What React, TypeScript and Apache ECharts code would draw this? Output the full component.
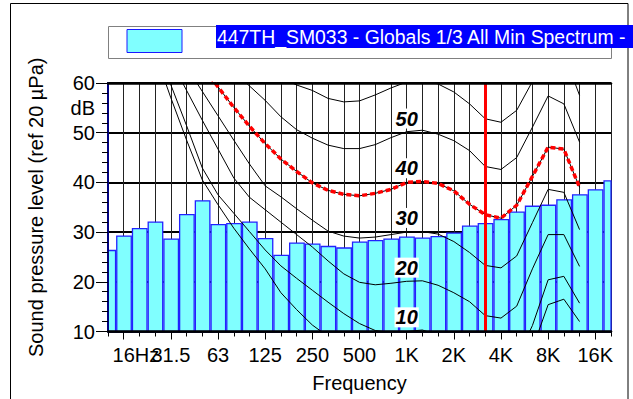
import React, { useEffect, useRef } from 'react';
import * as echarts from 'echarts';

// 1/3-octave band centres (x position = index in this list)
const BANDS = ['12.5', '16', '20', '25', '31.5', '40', '50', '63', '80', '100', '125', '160', '200', '250', '315', '400', '500', '630', '800', '1K', '1.25K', '1.6K', '2K', '2.5K', '3.15K', '4K', '5K', '6.3K', '8K', '10K', '12.5K', '16K', '20K'];
const LABELED_BANDS = ['16', '31.5', '63', '125', '250', '500', '1K', '2K', '4K', '8K', '16K'];
const FIRST_LABEL_SUFFIX = 'Hz';

// Measured spectrum (dB), one value per band
const SPECTRUM = [26.3, 29.2, 30.7, 32.0, 28.6, 33.5, 36.3, 31.5, 31.7, 32.0, 28.7, 25.3, 27.8, 27.6, 27.1, 26.8, 28.0, 28.3, 28.6, 29.0, 28.8, 29.1, 29.8, 31.2, 31.7, 32.5, 34.0, 35.2, 35.4, 36.5, 37.5, 38.5, 40.3];

// Equal-loudness contours, bands 20 Hz .. 12.5 kHz
const CONTOUR_START_BAND = '20';
const CONTOUR_0 = [74, 66, 57, 48.5, 40.5, 35.5, 30.8, 26.6, 22.6, 17.8, 14.4, 11.3, 9, 7.2, 5.8, 4.8, 4.2, 4.0, 3.6, 2.0, -0.5, -2.5, -3.5, -3.5, 0, 6.5, 15.4, 16.5, 12.0];
const CONTOUR_10 = [76, 68.3, 59.6, 51.4, 42.9, 37.5, 33.8, 30.1, 26.4, 23.2, 20.7, 18.3, 15.9, 13.6, 11.6, 10.2, 9.8, 10.0, 10.3, 9.3, 7, 4.5, 2.5, 2.0, 4.5, 11.2, 20.4, 21.1, 15.7];
const CONTOUR_20 = [79, 71.5, 64.5, 58.5, 52.5, 46.7, 40.9, 37.0, 34.5, 32.0, 29.5, 27.0, 24.2, 21.6, 19.9, 19.4, 19.7, 20.1, 20.2, 19.3, 17.8, 16.0, 13.2, 12.7, 15.1, 22.6, 29.5, 29.5, 23.1];
const CONTOUR_30 = [80, 73, 68, 63.2, 58.3, 53.4, 48.5, 43.7, 39.3, 37.1, 34.7, 32.4, 30.2, 29.2, 28.8, 29.0, 29.5, 30.0, 30.1, 29.6, 28.1, 25.9, 23.3, 22.8, 25.2, 31.9, 38.6, 38.0, 30.5];
const CONTOUR_40 = [90, 83, 76, 69, 63.4, 59.2, 55.1, 51.3, 47.8, 44.7, 42.2, 39.9, 38.4, 37.6, 37.3, 37.8, 38.6, 40.0, 40.2, 39.8, 38.3, 35.6, 33.5, 32.8, 35.4, 41.2, 47.1, 46.7, 39.0];
const CONTOUR_50 = [100, 93, 86, 79, 72, 67, 62.3, 59.4, 56.5, 53.2, 50.6, 48.9, 47.5, 46.8, 46.8, 47.6, 49.0, 50.2, 50.5, 49.7, 48.4, 46.4, 43.2, 42.6, 45.0, 51.1, 57.4, 55.8, 48.1];
const CONTOUR_60 = [110, 103, 96, 89, 82, 76, 71, 67, 63.5, 61.0, 59.6, 58.5, 56.9, 56.2, 56.4, 57.6, 59.0, 60.2, 60.5, 59.8, 58.2, 55.8, 52.8, 52.1, 54.5, 60.3, 67, 66, 57.5];
const CONTOUR_LABELS = ['10', '20', '30', '40', '50'];
const CONTOUR_LABEL_BAND = '1K';
const HIGHLIGHT_CONTOUR = CONTOUR_40;
const MARKER_BAND = '3.15K';

const Y_MIN = 10;
const Y_MAX = 60;
const Y_LABEL_VALUES = [10, 20, 30, 40, 50, 55, 60];
const Y_UNIT_VALUE = 55;
const Y_UNIT = 'dB';

const LEGEND_TEXT = '447TH_SM033 - Globals 1/3 All Min Spectrum -';
const X_TITLE = 'Frequency';
const Y_TITLE = 'Sound pressure level (ref 20 \u00b5Pa)';

const FONT = '"Liberation Sans", Arial, sans-serif';

export default function App() {
  const ref = useRef<HTMLDivElement>(null);

  useEffect(() => {
    if (!ref.current) return;
    const chart = echarts.init(ref.current, null, { renderer: 'svg' });
    const start = BANDS.indexOf(CONTOUR_START_BAND);
    const toPts = (arr: number[]) => arr.map((v, i) => [start + i, v]);
    const labelTicks = LABELED_BANDS.map((b) => BANDS.indexOf(b));
    const firstTick = labelTicks[0];
    const otherTicks = labelTicks.slice(1);
    const xMax = BANDS.length - 1;

    const contourSeries = [CONTOUR_0, CONTOUR_10, CONTOUR_20, CONTOUR_30, CONTOUR_40, CONTOUR_50, CONTOUR_60].map((arr) => ({
      type: 'line',
      data: toPts(arr),
      symbol: 'none',
      silent: true,
      clip: true,
      z: 3,
      lineStyle: { color: '#000', width: 1 },
    }));

    const hideAll = {
      axisLine: { show: false },
      axisTick: { show: false },
      axisLabel: { show: false },
      splitLine: { show: false },
    };
    const labelBase = {
      show: true, margin: 13, fontSize: 20, color: '#000', fontFamily: FONT,
      hideOverlap: false, showMinLabel: true, showMaxLabel: true,
    };

    chart.setOption({
      animation: false,
      backgroundColor: '#fff',
      textStyle: { fontFamily: FONT },
      grid: { left: 108, right: 22, top: 83, bottom: 67.5, containLabel: false },
      xAxis: [
        {
          type: 'value', min: 0, max: xMax, interval: 1, position: 'bottom',
          axisLine: { show: false },
          axisTick: { show: true, length: 5, lineStyle: { color: '#000', width: 1 } },
          axisLabel: { show: false },
          splitLine: { show: true, lineStyle: { color: '#222', width: 1 } },
        },
        {
          type: 'value', min: 0, max: xMax, position: 'bottom', z: 10,
          axisLine: { show: true, lineStyle: { color: '#000', width: 2.5 } },
          axisTick: { show: true, length: 8, customValues: labelTicks, lineStyle: { color: '#000', width: 1 } },
          axisLabel: {
            ...labelBase,
            customValues: otherTicks,
            formatter: (v: number) => BANDS[Math.round(v)],
          },
          splitLine: { show: false },
          name: X_TITLE, nameLocation: 'middle', nameGap: 41,
          nameTextStyle: { fontSize: 20, color: '#000', fontFamily: FONT },
        },
        {
          type: 'value', min: 0, max: xMax, position: 'top', z: 10,
          ...hideAll,
          axisLine: { show: true, lineStyle: { color: '#000', width: 2.5 } },
        },
        {
          type: 'value', min: 0, max: xMax, position: 'bottom', z: 10,
          axisLine: { show: false }, axisTick: { show: false }, splitLine: { show: false },
          axisLabel: {
            ...labelBase,
            customValues: [firstTick],
            formatter: (v: number) => `{h|${FIRST_LABEL_SUFFIX}}${BANDS[Math.round(v)]}${FIRST_LABEL_SUFFIX}`,
            rich: { h: { color: 'rgba(255,255,255,0)', fontSize: 20, fontFamily: FONT } },
          },
        },
      ],
      yAxis: [
        {
          type: 'value', min: Y_MIN, max: Y_MAX, interval: 10, position: 'left',
          axisLine: { show: false }, axisTick: { show: false }, axisLabel: { show: false },
          splitLine: { show: true, lineStyle: { color: '#000', width: 2 } },
        },
        {
          type: 'value', min: Y_MIN, max: Y_MAX, interval: 10, position: 'left', z: 10,
          axisLine: { show: true, lineStyle: { color: '#000080', width: 2 } },
          axisTick: { show: true, length: 12, lineStyle: { color: '#000', width: 1 } },
          axisLabel: {
            ...labelBase,
            customValues: Y_LABEL_VALUES,
            formatter: (v: number) => (v === Y_UNIT_VALUE ? Y_UNIT : String(v)),
          },
          splitLine: { show: false },
          name: Y_TITLE, nameLocation: 'middle', nameGap: 62, nameRotate: 90,
          nameTextStyle: { fontSize: 20, color: '#000', fontFamily: FONT },
        },
        {
          type: 'value', min: Y_MIN, max: Y_MAX, interval: 2, position: 'left', z: 10,
          axisLine: { show: false },
          axisTick: { show: true, length: 6, lineStyle: { color: '#000', width: 1 } },
          axisLabel: { show: false }, splitLine: { show: false },
        },
        {
          type: 'value', min: Y_MIN, max: Y_MAX, position: 'right', z: 10,
          ...hideAll,
          axisLine: { show: true, lineStyle: { color: '#000080', width: 2 } },
        },
      ],
      series: [
        {
          type: 'custom',
          data: SPECTRUM.map((v, i) => [i, v]),
          silent: true,
          z: 2,
          renderItem: (params: any, api: any) => {
            const x = api.value(0);
            const v = api.value(1);
            const p0 = api.coord([x - 0.5, v]);
            const p1 = api.coord([x + 0.5, Y_MIN]);
            const rect = echarts.graphic.clipRectByRect(
              { x: p0[0] + 0.9, y: p0[1], width: p1[0] - p0[0] - 1.2, height: p1[1] - p0[1] },
              { x: params.coordSys.x, y: params.coordSys.y, width: params.coordSys.width, height: params.coordSys.height },
            );
            if (!rect) return null;
            return {
              type: 'rect',
              shape: rect,
              style: { fill: '#80ffff', stroke: '#2222ff', lineWidth: 1.3 },
            };
          },
        },
        ...contourSeries,
        {
          type: 'line',
          data: toPts(HIGHLIGHT_CONTOUR),
          symbol: 'none',
          silent: true,
          clip: true,
          z: 4,
          lineStyle: { color: '#ff0000', width: 3.5, type: [5, 3] },
        },
        {
          type: 'line',
          data: [],
          silent: true,
          z: 5,
          markLine: {
            silent: true,
            symbol: ['none', 'none'],
            label: { show: false },
            lineStyle: { color: '#ff0000', width: 3, type: 'solid' },
            data: [{ xAxis: BANDS.indexOf(MARKER_BAND) }],
          },
        },
        {
          type: 'scatter',
          silent: true,
          z: 6,
          symbol: 'circle',
          symbolSize: 0.5,
          itemStyle: { color: '#fff', opacity: 1 },
          data: CONTOUR_LABELS.map((l) => [BANDS.indexOf(CONTOUR_LABEL_BAND), Number(l) + 2.85, l]),
          label: {
            show: true,
            position: 'inside',
            formatter: (p: any) => p.value[2],
            fontSize: 20,
            fontWeight: 'bold',
            fontStyle: 'italic',
            color: '#000',
            opacity: 1,
            fontFamily: FONT,
            backgroundColor: '#fff',
            padding: [0, 1, 0, 1],
          },
        },
      ],
      graphic: [
        {
          type: 'rect', z: 0, silent: true,
          shape: { x: 10.5, y: 3.5, width: 617.5, height: 600 },
          style: { fill: 'none', stroke: '#000', lineWidth: 1 },
        },
        {
          type: 'rect', z: 1, silent: true,
          shape: { x: 108.5, y: 26.5, width: 503, height: 32 },
          style: { fill: '#fff', stroke: '#808080', lineWidth: 1 },
        },
        {
          type: 'rect', z: 2, silent: true,
          shape: { x: 127, y: 29.5, width: 55, height: 23 },
          style: { fill: '#80ffff', stroke: '#1a1aff', lineWidth: 1 },
        },
        {
          type: 'text', z: 3, silent: true, x: 216, y: 25,
          style: {
            text: LEGEND_TEXT, fill: '#fff', backgroundColor: '#0000ff',
            padding: [2, 10, 2, 1], font: `19.4px ${FONT}`, verticalAlign: 'top', align: 'left',
          },
        },
      ],
    });

    return () => chart.dispose();
  }, []);

  return <div ref={ref} style={{ position: 'fixed', left: 0, top: 0, width: 633, height: 399, background: '#fff' }} />;
}
